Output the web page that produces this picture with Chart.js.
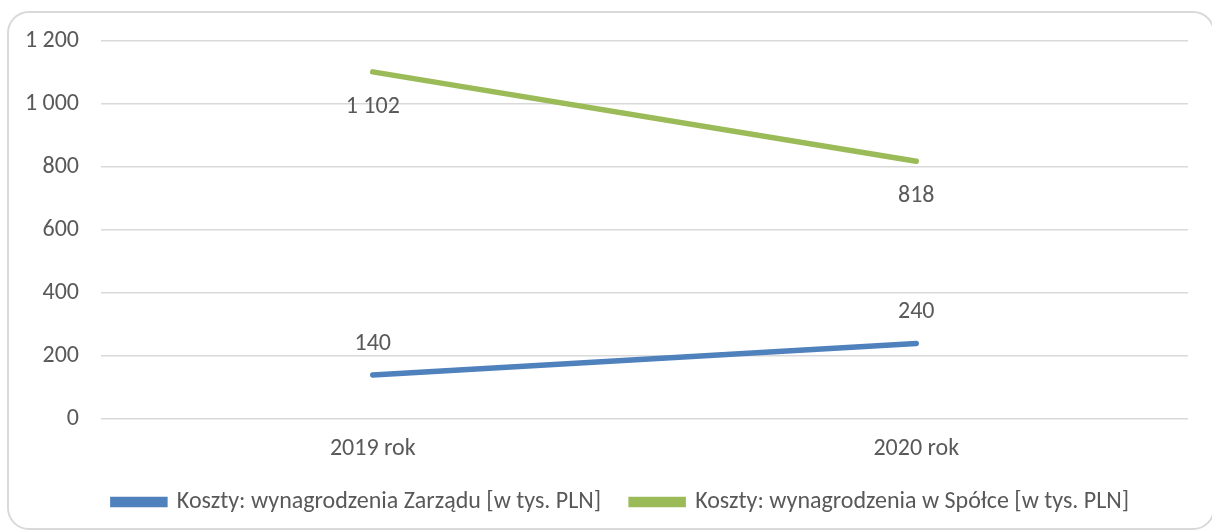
<!DOCTYPE html>
<html lang="pl">
<head>
  <meta charset="UTF-8" />
  <title>Koszty wynagrodzeń</title>
  <script src="https://cdn.jsdelivr.net/npm/chart.js"></script>
  <style>
    * { box-sizing: border-box; }
    html, body {
      margin: 0;
      padding: 0;
      background: #ffffff;
      overflow: hidden;
    }
    .wrap {
      position: relative;
      width: 1212px;
      height: 532px;
    }
    .frame {
      position: absolute;
      left: 7px;
      top: 11px;
      width: 1208px;
      height: 519px;
      border: 2px solid #d9d9d9;
      border-radius: 22px;
    }
    canvas {
      position: absolute;
      left: 0;
      top: 0;
    }
  </style>
</head>
<body>
  <div class="wrap">
    <div class="frame"></div>
    <canvas id="chart" width="1212" height="532"></canvas>
  </div>

  <script>
    // data
    const categories = ['2019 rok', '2020 rok'];
    const boardPay = [140, 240];
    const companyPay = [1102, 818];
    const seriesNames = [
      'Koszty: wynagrodzenia Zarządu [w tys. PLN]',
      'Koszty: wynagrodzenia w Spółce [w tys. PLN]'
    ];
    const yTicks = [0, 200, 400, 600, 800, 1000, 1200];

    const FONT = 'Carlito, "Open Sans", sans-serif';
    const SIZE = 24;
    const TEXT = '#595959';

    // 1200 -> "1 200"
    function fmt(v) {
      return String(v).replace(/\B(?=(\d{3})+(?!\d))/g, ' ');
    }

    // values next to the points; blue above, green below
    const valueLabels = {
      id: 'valueLabels',
      afterDatasetsDraw(chart) {
        const ctx = chart.ctx;
        ctx.save();
        ctx.font = SIZE + 'px ' + FONT;
        ctx.fillStyle = TEXT;
        ctx.textAlign = 'center';
        ctx.textBaseline = 'middle';
        chart.data.datasets.forEach((ds, i) => {
          const meta = chart.getDatasetMeta(i);
          meta.data.forEach((pt, j) => {
            const dy = ds.labelBelow ? 35 : -31;
            ctx.fillText(fmt(ds.data[j]), pt.x, pt.y + dy);
          });
        });
        ctx.restore();
      }
    };

    // legend sits centred on the whole frame, not on the plot
    const legendShift = {
      id: 'legendShift',
      afterLayout(chart) {
        const lg = chart.legend;
        if (!lg) return;
        lg.left += 27;
        lg.right += 27;
      }
    };

    new Chart(document.getElementById('chart'), {
      type: 'line',
      data: {
        labels: categories,
        datasets: [
          {
            label: seriesNames[0],
            data: boardPay,
            borderColor: '#4f81bd',
            backgroundColor: '#4f81bd',
            borderWidth: 5.5,
            borderCapStyle: 'round',
            pointRadius: 0,
            labelBelow: false
          },
          {
            label: seriesNames[1],
            data: companyPay,
            borderColor: '#9bbb59',
            backgroundColor: '#9bbb59',
            borderWidth: 5.5,
            borderCapStyle: 'round',
            pointRadius: 0,
            labelBelow: true
          }
        ]
      },
      options: {
        responsive: false,
        animation: false,
        layout: {
          padding: { top: 41, right: 24, bottom: 8, left: 0 }
        },
        scales: {
          x: {
            offset: true,
            grid: { display: false, drawTicks: false },
            border: { display: false },
            ticks: {
              color: TEXT,
              font: { family: FONT, size: SIZE },
              padding: 16
            },
            afterFit(s) { s.height = 41; }
          },
          y: {
            min: 0,
            max: 1200,
            afterBuildTicks(s) { s.ticks = yTicks.map(v => ({ value: v })); },
            grid: { color: '#d9d9d9', lineWidth: 1.5, drawTicks: false },
            border: { display: false },
            ticks: {
              color: TEXT,
              font: { family: FONT, size: SIZE },
              padding: 22,
              callback: v => fmt(v)
            },
            afterFit(s) { s.width = 101; }
          }
        },
        plugins: {
          legend: {
            position: 'bottom',
            labels: {
              color: TEXT,
              font: { family: FONT, size: SIZE },
              boxWidth: 52,
              boxHeight: 5,
              padding: 30
            }
          },
          tooltip: { enabled: false }
        }
      },
      plugins: [valueLabels, legendShift]
    });
  </script>
</body>
</html>
